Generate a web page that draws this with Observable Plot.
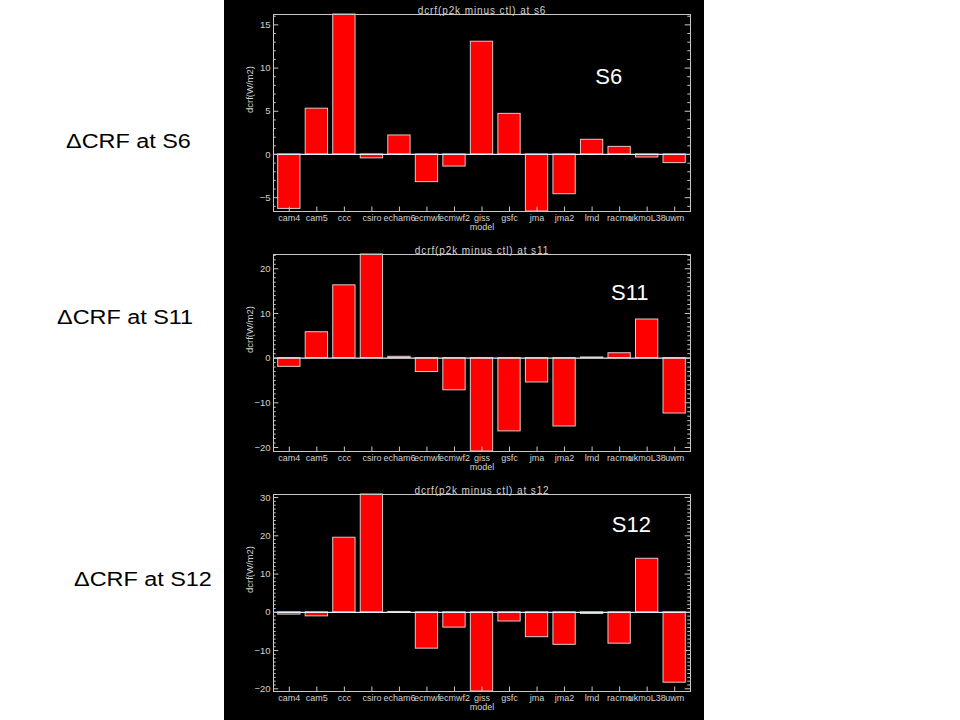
<!DOCTYPE html>
<html>
<head>
<meta charset="utf-8">
<script src="https://cdn.jsdelivr.net/npm/d3@7"></script>
<script src="https://cdn.jsdelivr.net/npm/@observablehq/plot@0.6"></script>
<style>
html, body { margin: 0; padding: 0; background: #fff; }
#page { position: relative; width: 960px; height: 720px; overflow: hidden; background: #fff; font-family: "Liberation Sans", Arial, sans-serif; }
#panel { position: absolute; left: 224px; top: 0; width: 480px; height: 720px; background: #000; }
#panel svg { display: block; }
.side { position: absolute; font-size: 19.5px; line-height: 1; color: #000; white-space: nowrap; transform: scaleX(1.2); transform-origin: 0 0; }
</style>
</head>
<body>
<div id="page"><div id="panel"></div></div>
<script>
// ---- data ----
const models = ["cam4", "cam5", "ccc", "csiro", "echam6", "ecmwf", "ecmwf2", "giss", "gsfc", "jma", "jma2", "lmd", "racmo", "ukmoL38", "uwm"];
const s6Values  = [-6.3, 5.3, 17.5, -0.45, 2.2, -3.2, -1.4, 13.05, 4.7, -7.5, -4.6, 1.7, 0.88, -0.35, -1.0];
const s11Values = [-1.95, 5.8, 16.3, 25.0, 0.3, -3.1, -7.2, -22.0, -16.4, -5.45, -15.3, 0.15, 1.1, 8.65, -12.4];
const s12Values = [-0.6, -1.05, 19.5, 33.0, 0.1, -9.5, -4.0, -22.0, -2.4, -6.5, -8.5, -0.45, -8.2, 14.0, -18.4];
const seriesValues = [s6Values, s11Values, s12Values];
const siteNames = ["S6", "S11", "S12"];
const plotTitles = ["dcrf(p2k minus ctl) at s6", "dcrf(p2k minus ctl) at s11", "dcrf(p2k minus ctl) at s12"];
const sideLabels = ["\u0394CRF at S6", "\u0394CRF at S11", "\u0394CRF at S12"];
const yDomains = [[-6.6, 16.2], [-20.9, 23.2], [-20.7, 30.8]];
const yMajorTicks = [[-5, 0, 5, 10, 15], [-20, -10, 0, 10, 20], [-20, -10, 0, 10, 20, 30]];
const yLabel = "dcrf(W/m2)";
const xLabel = "model";

// ---- layout (styles / positions) ----
const W = 480, H = 240, ML = 49, MR = 14, MT = 14, MB = 29;
const FW = W - ML - MR, FH = H - MT - MB;
const siteOffsets = [[-81.7, 54], [-60.7, 30.2], [-59.2, 21.5]];
const sidePos = [[66, 131.8], [57.3, 307.5], [74, 570.2]];
const FONT = "'Liberation Sans', Arial, sans-serif";

function makePanel(i) {
  const values = seriesValues[i];
  const data = models.map((m, j) => ({model: m, value: values[j]}));
  const [lo, hi] = yDomains[i];
  const majors = yMajorTicks[i];
  const minors = d3.range(Math.ceil(lo), Math.floor(hi) + 1).filter(v => !majors.includes(v));
  const svg = Plot.plot({
    width: W, height: H,
    marginLeft: ML, marginRight: MR, marginTop: MT, marginBottom: MB,
    style: {background: "transparent", color: "#d2d2d2", fontFamily: FONT},
    x: {type: "band", domain: models, paddingInner: 0.19, paddingOuter: 0.17, round: false, label: null},
    y: {domain: yDomains[i], clamp: true, label: null},
    marks: [
      Plot.barY(data, {x: "model", y: "value", fill: "#ff0000", stroke: "#dcc8c8", strokeWidth: 1}),
      Plot.ruleY([0], {stroke: "#e6eef6", strokeWidth: 1.2}),
      Plot.tickY(majors, {y: d => d, insetRight: FW - 5.3, stroke: "#c8c8c8"}),
      Plot.tickY(minors, {y: d => d, insetRight: FW - 2.7, stroke: "#c8c8c8"}),
      Plot.tickY(majors, {y: d => d, insetLeft: FW - 5.3, stroke: "#c8c8c8"}),
      Plot.tickY(minors, {y: d => d, insetLeft: FW - 2.7, stroke: "#c8c8c8"}),
      Plot.tickX(models, {x: d => d, insetTop: FH - 4.5, stroke: "#c8c8c8"}),
      Plot.axisY({ticks: majors, tickSize: 0, tickPadding: 3, fontSize: 9.5, label: null}),
      Plot.axisX({tickSize: 0, tickPadding: 3.5, fontSize: 9, label: null}),
      Plot.frame({stroke: "#c8c8c8"}),
      Plot.text([plotTitles[i]], {text: d => d, frameAnchor: "top", dy: -7.5, fontSize: 10}),
      Plot.text([yLabel], {text: d => d, frameAnchor: "left", rotate: -90, dx: -24, fontSize: 9.5}),
      Plot.text([xLabel], {text: d => d, frameAnchor: "bottom", dy: 18.5, fontSize: 9}),
      Plot.text([siteNames[i]], {text: d => d, frameAnchor: "top-right", textAnchor: "middle", dx: siteOffsets[i][0], dy: siteOffsets[i][1], fontSize: 22, fill: "#ffffff"})
    ]
  });
  d3.select(svg).selectAll("text").filter(function () { return this.textContent === plotTitles[i]; })
    .attr("letter-spacing", "0.9");
  return svg;
}

const panelDiv = document.getElementById("panel");
for (let i = 0; i < 3; i++) panelDiv.appendChild(makePanel(i));

const page = document.getElementById("page");
sideLabels.forEach((t, i) => {
  const d = document.createElement("div");
  d.className = "side";
  d.textContent = t;
  d.style.left = sidePos[i][0] + "px";
  d.style.top = sidePos[i][1] + "px";
  page.appendChild(d);
});
</script>
</body>
</html>
